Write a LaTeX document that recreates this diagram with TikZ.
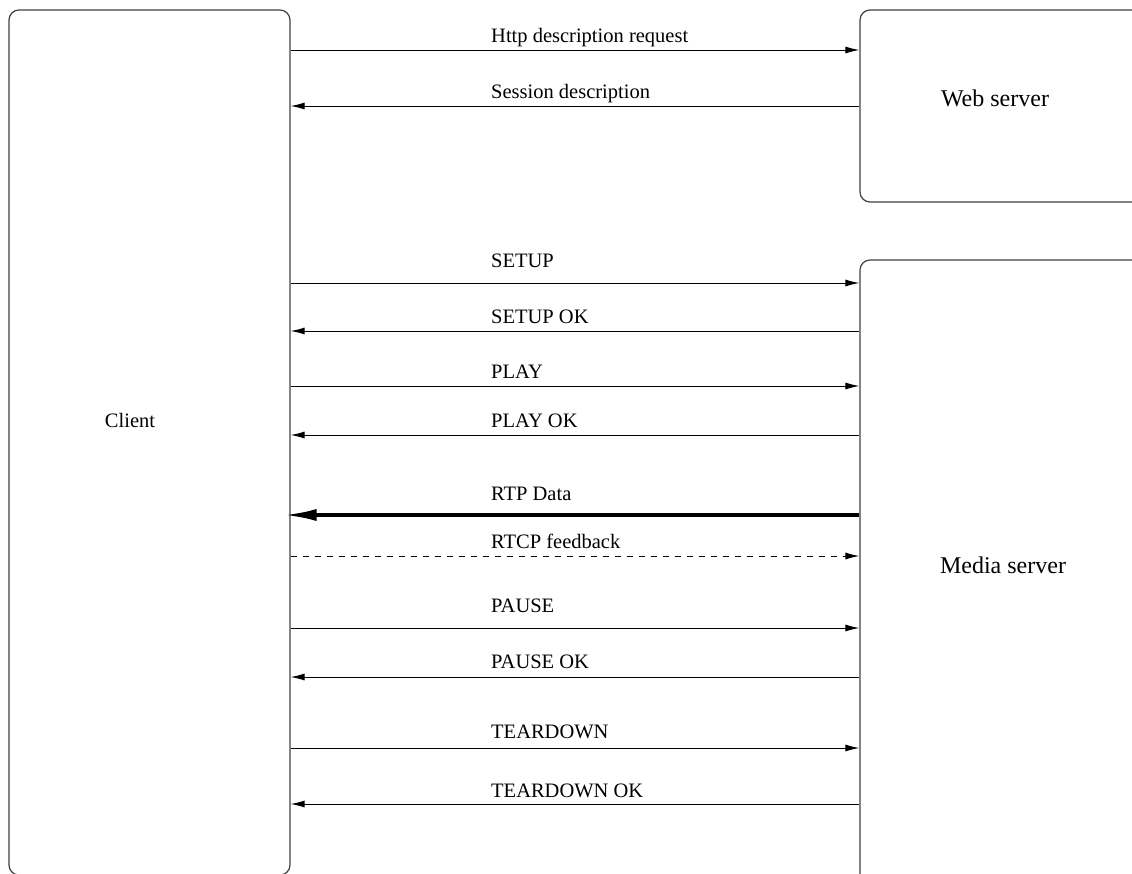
\documentclass[tikz,border=0pt]{standalone}
\usepackage{fontspec}
\setmainfont{Liberation Serif}
\usetikzlibrary{arrows.meta}

\begin{document}
\begin{tikzpicture}[x=1pt,y=-1pt,
    >={Latex[length=14pt,width=7pt]},
    box/.style={draw=black!75, line width=1.2pt, rounded corners=10pt, inner sep=0pt},
    msg/.style={line width=1pt},
    data/.style={line width=4pt, >={Latex[length=34pt,width=12pt]}, shorten <=-8pt},
    feedback/.style={line width=1pt, dash pattern=on 6pt off 6pt},
    lbl/.style={anchor=base west, inner sep=0pt, font=\fontsize{20.5}{24}\selectfont},
    who/.style={inner sep=0pt, font=\fontsize{24}{28}\selectfont}
    ]
\useasboundingbox (0,0) rectangle (1132,873);
\clip (0,0) rectangle (1132,873);
\node[box, minimum width=281pt, minimum height=865pt] (client) at (149.5,442.5) {};
\node[box, minimum width=290pt, minimum height=192pt] (web) at (1005,106) {};
\node[box, minimum width=290pt, minimum height=630pt] (media) at (1005,575) {};
\node[who, font=\fontsize{20.5}{24}\selectfont] (clientname) at (130,420) {Client};
\node[who] (webname) at (995,98) {Web server};
\node[who] (medianame) at (1003,565) {Media server};

\draw[msg,->] (client.east |- 0,50) -- (web.west |- 0,50);
\node[lbl] (req) at (491,42) {Http description request};
\draw[msg,<-] (client.east |- 0,106) -- (web.west |- 0,106);
\node[lbl] (sdp) at (491,98) {Session description};

\draw[msg,->] (client.east |- 0,283) -- (media.west |- 0,283);
\node[lbl] (setup) at (491,267) {SETUP};
\draw[msg,<-] (client.east |- 0,331) -- (media.west |- 0,331);
\node[lbl] (setupok) at (491,323) {SETUP OK};
\draw[msg,->] (client.east |- 0,386) -- (media.west |- 0,386);
\node[lbl] (play) at (491,378) {PLAY};
\draw[msg,<-] (client.east |- 0,435) -- (media.west |- 0,435);
\node[lbl] (playok) at (491,427) {PLAY OK};
\draw[data,<-] (client.east |- 0,515) -- (media.west |- 0,515);
\node[lbl] (rtp) at (491,500) {RTP Data};
\draw[feedback,->] (client.east |- 0,556) -- (media.west |- 0,556);
\node[lbl] (rtcp) at (491,548) {RTCP feedback};
\draw[msg,->] (client.east |- 0,628) -- (media.west |- 0,628);
\node[lbl] (pause) at (491,612) {PAUSE};
\draw[msg,<-] (client.east |- 0,677) -- (media.west |- 0,677);
\node[lbl] (pauseok) at (491,668) {PAUSE OK};
\draw[msg,->] (client.east |- 0,748) -- (media.west |- 0,748);
\node[lbl] (teardown) at (491,738) {TEARDOWN};
\draw[msg,<-] (client.east |- 0,804) -- (media.west |- 0,804);
\node[lbl] (teardownok) at (491,797) {TEARDOWN OK};
\end{tikzpicture}
\end{document}
